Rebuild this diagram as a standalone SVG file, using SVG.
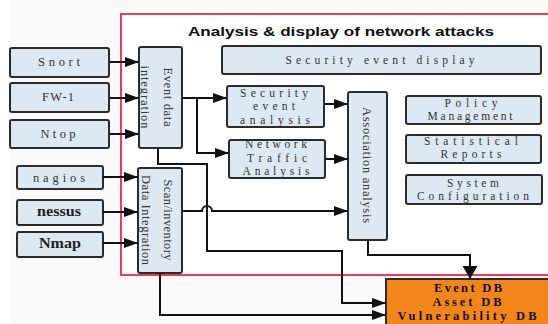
<svg xmlns="http://www.w3.org/2000/svg" width="548" height="324" viewBox="0 0 548 324">
  <defs>
    <marker id="arr" markerUnits="userSpaceOnUse" markerWidth="14" markerHeight="10" refX="14" refY="5" orient="auto">
      <path d="M0,0 L14,5 L0,10 z" fill="#111"/>
    </marker>
    <marker id="arrBig" markerUnits="userSpaceOnUse" markerWidth="13" markerHeight="15" refX="13" refY="7.5" orient="auto">
      <path d="M0,0 L13,7.5 L0,15 z" fill="#111"/>
    </marker>
    <style>
      .box { fill: #dde9f2; stroke: #2b2b2b; stroke-width: 2; }
      .db { fill: #f3861a; stroke: #2b2b2b; stroke-width: 2; }
      .lbl { font-family: "Liberation Serif", "DejaVu Serif", serif; font-size: 11.5px; fill: #333; text-anchor: middle; }
      .serif { font-family: "Liberation Serif", "DejaVu Serif", serif; font-size: 12.5px; fill: #333; text-anchor: middle; }
      .srcb { font-family: "Liberation Serif", serif; font-size: 14px; font-weight: bold; fill: #222; text-anchor: middle; }
      .line { fill: none; stroke: #111; stroke-width: 2; }
      .title { font-family: "Liberation Sans", Arial, sans-serif; font-size: 12.5px; font-weight: bold; fill: #111; }
      .dbt { font-family: "Liberation Serif", serif; font-size: 12.5px; font-weight: bold; fill: #111; text-anchor: middle; }
    </style>
  </defs>

  <!-- canvas -->
  <rect x="0" y="0" width="548" height="324" fill="#ffffff"/>
  <rect x="10" y="0" width="538" height="324" fill="#f9f9f9"/>

  <!-- analysis frame -->
  <rect x="121" y="14" width="430" height="261" fill="#ffffff"/>
  <path d="M550,14 H121 V275 H550" fill="none" stroke="#ee3a5a" stroke-width="2"/>
  <text class="title" x="188" y="36" textLength="306" lengthAdjust="spacingAndGlyphs">Analysis &amp; display of network attacks</text>

  <!-- source tools -->
  <g id="snort">
    <rect class="box" x="10" y="48" width="99" height="29" rx="2"/>
    <text class="serif" x="59" y="66" font-size="13.5" textLength="42" lengthAdjust="spacing">Snort</text>
  </g>
  <g id="fw1">
    <rect class="box" x="10" y="83" width="99" height="29" rx="2"/>
    <text class="serif" x="58" y="101" font-size="13.5" textLength="32" lengthAdjust="spacing">FW-1</text>
  </g>
  <g id="ntop">
    <rect class="box" x="10" y="120" width="99" height="28" rx="2"/>
    <text class="serif" x="58" y="138" font-size="13.5" textLength="35" lengthAdjust="spacing">Ntop</text>
  </g>
  <g id="nagios">
    <rect class="box" x="17" y="166" width="86" height="23" rx="2"/>
    <text class="serif" x="59" y="182" font-size="13" textLength="52" lengthAdjust="spacing">nagios</text>
  </g>
  <g id="nessus">
    <rect class="box" x="17" y="200" width="86" height="25" rx="2"/>
    <text class="srcb" x="59" y="216" font-size="13" textLength="44" lengthAdjust="spacingAndGlyphs">nessus</text>
  </g>
  <g id="nmap">
    <rect class="box" x="17" y="232" width="86" height="25" rx="2"/>
    <text class="srcb" x="60" y="248" textLength="42" lengthAdjust="spacingAndGlyphs">Nmap</text>
  </g>

  <!-- integration -->
  <g id="event-data-integration">
    <rect class="box" x="139" y="47" width="43" height="101" rx="2"/>
    <text class="serif" transform="translate(164,97) rotate(90)" textLength="59" lengthAdjust="spacing">Event data</text>
    <text class="serif" transform="translate(141,97) rotate(90)" textLength="63" lengthAdjust="spacing">integration</text>
  </g>
  <g id="scan-inventory-integration">
    <rect class="box" x="138" y="168" width="44" height="105" rx="2"/>
    <text class="serif" transform="translate(164,220) rotate(90)" textLength="81" lengthAdjust="spacing">Scan/inventory</text>
    <text class="serif" transform="translate(142,220) rotate(90)" textLength="90" lengthAdjust="spacing">Data Integration</text>
  </g>

  <!-- analysis -->
  <g id="security-event-display">
    <rect class="box" x="222" y="46" width="319" height="28" rx="2"/>
    <text class="lbl" x="380" y="64" font-size="14" textLength="189" lengthAdjust="spacing">Security event display</text>
  </g>
  <g id="security-event-analysis">
    <rect class="box" x="227" y="86" width="97" height="41" rx="2"/>
    <text class="lbl" x="274" y="96.5" textLength="68" lengthAdjust="spacing">Security</text>
    <text class="lbl" x="274" y="110" textLength="42" lengthAdjust="spacing">event</text>
    <text class="lbl" x="275" y="123.5" textLength="70" lengthAdjust="spacing">analysis</text>
  </g>
  <g id="network-traffic-analysis">
    <rect class="box" x="229" y="140" width="96" height="38" rx="2"/>
    <text class="lbl" x="276" y="148" textLength="62" lengthAdjust="spacing">Network</text>
    <text class="lbl" x="277" y="161.5" textLength="60" lengthAdjust="spacing">Traffic</text>
    <text class="lbl" x="276" y="175" textLength="67" lengthAdjust="spacing">Analysis</text>
  </g>
  <g id="association-analysis">
    <rect class="box" x="348" y="92" width="39" height="148" rx="2"/>
    <text class="serif" transform="translate(363,165) rotate(90)" textLength="116" lengthAdjust="spacing">Association analysis</text>
  </g>

  <!-- management -->
  <g id="policy-management">
    <rect class="box" x="406" y="96" width="135" height="28" rx="2"/>
    <text class="lbl" x="471" y="107" textLength="53" lengthAdjust="spacing">Policy</text>
    <text class="lbl" x="470" y="120" textLength="85" lengthAdjust="spacing">Management</text>
  </g>
  <g id="statistical-reports">
    <rect class="box" x="406" y="135" width="135" height="28" rx="2"/>
    <text class="lbl" x="471" y="145" textLength="94" lengthAdjust="spacing">Statistical</text>
    <text class="lbl" x="471" y="158" textLength="61" lengthAdjust="spacing">Reports</text>
  </g>
  <g id="system-configuration">
    <rect class="box" x="406" y="175" width="136" height="29" rx="2"/>
    <text class="lbl" x="473" y="187" textLength="52" lengthAdjust="spacing">System</text>
    <text class="lbl" x="473" y="200" textLength="112" lengthAdjust="spacing">Configuration</text>
  </g>

  <!-- storage -->
  <g id="databases">
    <rect class="db" x="386" y="279" width="170" height="50"/>
    <text class="dbt" x="468" y="292" textLength="68" lengthAdjust="spacing">Event DB</text>
    <text class="dbt" x="467" y="306" textLength="69" lengthAdjust="spacing">Asset DB</text>
    <text class="dbt" x="467" y="320" textLength="139" lengthAdjust="spacing">Vulnerability DB</text>
  </g>

  <!-- connectors -->
  <g id="connectors">
    <path class="line" d="M109,62 H139" marker-end="url(#arr)"/>
    <path class="line" d="M109,98 H139" marker-end="url(#arr)"/>
    <path class="line" d="M109,134 H139" marker-end="url(#arr)"/>
    <path class="line" d="M103,177 H138" marker-end="url(#arr)"/>
    <path class="line" d="M103,212 H138" marker-end="url(#arr)"/>
    <path class="line" d="M103,243 H138" marker-end="url(#arr)"/>

    <path class="line" d="M182,98 H227" marker-end="url(#arr)"/>
    <path class="line" d="M197,98 V153 H229" marker-end="url(#arr)"/>
    <path class="line" d="M324,104 H348" marker-end="url(#arr)"/>
    <path class="line" d="M325,159 H348" marker-end="url(#arr)"/>

    <path class="line" d="M182,211 H202 A5,5 0 0 1 212,211 H348" marker-end="url(#arr)"/>

    <path class="line" d="M158,148 V164 H207 V251 H342 V303 H386" marker-end="url(#arr)"/>
    <path class="line" d="M160,273 V315 H386" marker-end="url(#arr)"/>
    <path class="line" d="M368,240 V255 H470 V279" marker-end="url(#arrBig)"/>
  </g>
</svg>
